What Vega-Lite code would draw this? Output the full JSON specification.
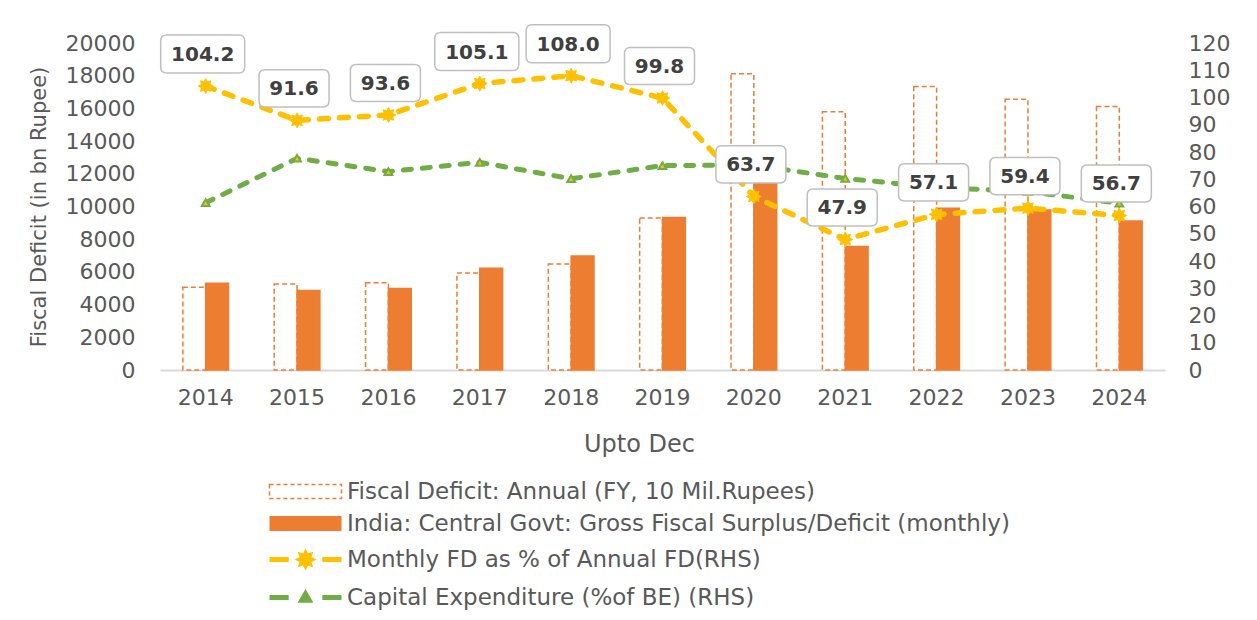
{
  "$schema": "https://vega.github.io/schema/vega-lite/v6.json",
  "width": 1005,
  "height": 327,
  "autosize": {"type": "none"},
  "padding": {"left": 160, "top": 43, "right": 92, "bottom": 250},
  "background": "white",
  "datasets": {
    "bars": [
      {"year": "2014", "series": "Fiscal Deficit: Annual (FY, 10 Mil.Rupees)", "value": 5060},
      {"year": "2014", "series": "India: Central Govt: Gross Fiscal Surplus/Deficit (monthly)", "value": 5306},
      {"year": "2015", "series": "Fiscal Deficit: Annual (FY, 10 Mil.Rupees)", "value": 5263},
      {"year": "2015", "series": "India: Central Govt: Gross Fiscal Surplus/Deficit (monthly)", "value": 4855},
      {"year": "2016", "series": "Fiscal Deficit: Annual (FY, 10 Mil.Rupees)", "value": 5340},
      {"year": "2016", "series": "India: Central Govt: Gross Fiscal Surplus/Deficit (monthly)", "value": 4990},
      {"year": "2017", "series": "Fiscal Deficit: Annual (FY, 10 Mil.Rupees)", "value": 5930},
      {"year": "2017", "series": "India: Central Govt: Gross Fiscal Surplus/Deficit (monthly)", "value": 6220},
      {"year": "2018", "series": "Fiscal Deficit: Annual (FY, 10 Mil.Rupees)", "value": 6487},
      {"year": "2018", "series": "India: Central Govt: Gross Fiscal Surplus/Deficit (monthly)", "value": 6977},
      {"year": "2019", "series": "Fiscal Deficit: Annual (FY, 10 Mil.Rupees)", "value": 9302},
      {"year": "2019", "series": "India: Central Govt: Gross Fiscal Surplus/Deficit (monthly)", "value": 9323},
      {"year": "2020", "series": "Fiscal Deficit: Annual (FY, 10 Mil.Rupees)", "value": 18115},
      {"year": "2020", "series": "India: Central Govt: Gross Fiscal Surplus/Deficit (monthly)", "value": 11500},
      {"year": "2021", "series": "Fiscal Deficit: Annual (FY, 10 Mil.Rupees)", "value": 15790},
      {"year": "2021", "series": "India: Central Govt: Gross Fiscal Surplus/Deficit (monthly)", "value": 7548},
      {"year": "2022", "series": "Fiscal Deficit: Annual (FY, 10 Mil.Rupees)", "value": 17340},
      {"year": "2022", "series": "India: Central Govt: Gross Fiscal Surplus/Deficit (monthly)", "value": 9894},
      {"year": "2023", "series": "Fiscal Deficit: Annual (FY, 10 Mil.Rupees)", "value": 16565},
      {"year": "2023", "series": "India: Central Govt: Gross Fiscal Surplus/Deficit (monthly)", "value": 9792},
      {"year": "2024", "series": "Fiscal Deficit: Annual (FY, 10 Mil.Rupees)", "value": 16116},
      {"year": "2024", "series": "India: Central Govt: Gross Fiscal Surplus/Deficit (monthly)", "value": 9119}
    ],
    "lines": [
      {"year": "2014", "series": "pct", "value": 104.2},
      {"year": "2015", "series": "pct", "value": 91.6},
      {"year": "2016", "series": "pct", "value": 93.6},
      {"year": "2017", "series": "pct", "value": 105.1},
      {"year": "2018", "series": "pct", "value": 108.0},
      {"year": "2019", "series": "pct", "value": 99.8},
      {"year": "2020", "series": "pct", "value": 63.7},
      {"year": "2021", "series": "pct", "value": 47.9},
      {"year": "2022", "series": "pct", "value": 57.1},
      {"year": "2023", "series": "pct", "value": 59.4},
      {"year": "2024", "series": "pct", "value": 56.7},
      {"year": "2014", "series": "capex", "value": 61.4},
      {"year": "2015", "series": "capex", "value": 77.7},
      {"year": "2016", "series": "capex", "value": 72.8},
      {"year": "2017", "series": "capex", "value": 76.2},
      {"year": "2018", "series": "capex", "value": 70.2},
      {"year": "2019", "series": "capex", "value": 75.0},
      {"year": "2020", "series": "capex", "value": 75.2},
      {"year": "2021", "series": "capex", "value": 70.3},
      {"year": "2022", "series": "capex", "value": 67.0},
      {"year": "2023", "series": "capex", "value": 65.5},
      {"year": "2024", "series": "capex", "value": 61.2}
    ]
  },
  "config": {
    "view": {"stroke": null},
    "font": "DejaVu Sans",
    "axis": {
      "labelFont": "DejaVu Sans",
      "labelFontSize": 22,
      "labelColor": "#595959",
      "titleFont": "DejaVu Sans",
      "titleColor": "#595959",
      "titleFontWeight": "normal",
      "grid": false,
      "ticks": false,
      "tickSize": 0
    }
  },
  "encoding": {
    "x": {
      "field": "year",
      "type": "ordinal",
      "scale": {"paddingInner": 0.5, "paddingOuter": 0.25},
      "axis": {
        "title": "Upto Dec",
        "labelAngle": 0,
        "domainColor": "#D9D9D9",
        "domainWidth": 2,
        "labelPadding": 17,
        "titlePadding": 24,
        "titleFontSize": 24,
        "titleX": 479
      }
    }
  },
  "layer": [
    {
      "data": {"name": "bars"},
      "mark": {"type": "bar", "strokeWidth": 1.5},
      "encoding": {
        "xOffset": {
          "field": "series",
          "type": "nominal",
          "scale": {
            "domain": ["Fiscal Deficit: Annual (FY, 10 Mil.Rupees)", "India: Central Govt: Gross Fiscal Surplus/Deficit (monthly)"],
            "paddingInner": 0,
            "paddingOuter": 0
          }
        },
        "y": {
          "field": "value",
          "type": "quantitative",
          "scale": {"domain": [0, 20000]},
          "axis": {
            "title": "Fiscal Deficit  (in bn Rupee)",
            "values": [0, 2000, 4000, 6000, 8000, 10000, 12000, 14000, 16000, 18000, 20000],
            "format": "d",
            "domain": false,
            "labelPadding": 25,
            "titlePadding": 16,
            "titleFontSize": 21
          }
        },
        "fill": {
          "field": "series",
          "type": "nominal",
          "scale": {
            "domain": ["Fiscal Deficit: Annual (FY, 10 Mil.Rupees)", "India: Central Govt: Gross Fiscal Surplus/Deficit (monthly)"],
            "range": ["#FFFFFF", "#ED7D31"]
          },
          "legend": null
        },
        "strokeDash": {
          "field": "series",
          "type": "nominal",
          "scale": {
            "domain": ["Fiscal Deficit: Annual (FY, 10 Mil.Rupees)", "India: Central Govt: Gross Fiscal Surplus/Deficit (monthly)"],
            "range": [[5, 3], [1, 0]]
          },
          "legend": null
        },
        "stroke": {
          "field": "series",
          "type": "nominal",
          "scale": {
            "domain": [
              "Fiscal Deficit: Annual (FY, 10 Mil.Rupees)",
              "India: Central Govt: Gross Fiscal Surplus/Deficit (monthly)",
              "Monthly FD as % of Annual FD(RHS)",
              "Capital Expenditure (%of BE) (RHS)"
            ],
            "range": ["#ED7D31", "#ED7D31", "#FFC000", "#70AD47"]
          },
          "legend": {
            "title": null,
            "orient": "none",
            "legendX": 134,
            "legendY": 437,
            "direction": "vertical",
            "padding": 0,
            "labelFont": "DejaVu Sans",
            "labelFontSize": 23,
            "labelColor": "#595959",
            "labelLimit": 900,
            "symbolSize": 576,
            "labelOffset": 30,
            "rowPadding": 8,
            "symbolOpacity": 1,
            "symbolType": {"expr": "datum.index === 0 ? 'M-3,-0.58H3V0.58H-3Z' : datum.index === 1 ? 'M-3,-0.62H3V0.62H-3Z' : datum.index === 2 ? 'M-3,0H-1.4M1.4,0H3M0.45,0L0.25,0.1L0.32,0.32L0.1,0.25L0,0.45L-0.1,0.25L-0.32,0.32L-0.25,0.1L-0.45,0L-0.25,-0.1L-0.32,-0.32L-0.1,-0.25L0,-0.45L0.1,-0.25L0.32,-0.32L0.25,-0.1Z' : 'M-3,0H-1.4M1.4,0H3M0,-0.3L0.3,0.22H-0.3Z'"},
            "symbolFillColor": {"expr": "datum.index === 0 ? '#FFFFFF' : datum.index === 1 ? '#ED7D31' : datum.index === 2 ? '#FFC000' : '#70AD47'"},
            "symbolStrokeWidth": {"expr": "datum.index === 0 ? 1.5 : datum.index === 1 ? 0 : 5"},
            "symbolDash": {"expr": "datum.index === 0 ? [4, 3] : [1, 0]"}
          }
        }
      }
    },
    {
      "data": {"name": "lines"},
      "encoding": {
        "y": {
          "field": "value",
          "type": "quantitative",
          "scale": {"domain": [0, 120]},
          "axis": {
            "orient": "right",
            "title": null,
            "values": [0, 10, 20, 30, 40, 50, 60, 70, 80, 90, 100, 110, 120],
            "domain": false,
            "labelPadding": 23
          }
        }
      },
      "layer": [
        {
          "transform": [{"filter": "datum.series === 'pct'"}],
          "mark": {"type": "line", "color": "#FFC000", "strokeWidth": 5.5, "strokeDash": [9, 11], "strokeCap": "round"}
        },
        {
          "transform": [{"filter": "datum.series === 'capex'"}],
          "mark": {"type": "line", "color": "#70AD47", "strokeWidth": 5, "strokeDash": [8, 11], "strokeCap": "round"}
        },
        {
          "transform": [{"filter": "datum.series === 'pct'"}],
          "mark": {
            "type": "point",
            "shape": "M1,0L0.55,0.23L0.71,0.71L0.23,0.55L0,1L-0.23,0.55L-0.71,0.71L-0.55,0.23L-1,0L-0.55,-0.23L-0.71,-0.71L-0.23,-0.55L0,-1L0.23,-0.55L0.71,-0.71L0.55,-0.23Z",
            "size": 220,
            "filled": true,
            "fill": "#FFC000",
            "stroke": "#FFC000",
            "strokeWidth": 1,
            "opacity": 1
          }
        },
        {
          "transform": [{"filter": "datum.series === 'capex'"}],
          "mark": {
            "type": "point",
            "shape": "triangle-up",
            "size": 60,
            "filled": true,
            "fill": "#FFC000",
            "stroke": "#70AD47",
            "strokeWidth": 2,
            "opacity": 1
          }
        },
        {
          "transform": [{"filter": "datum.series === 'pct'"}],
          "mark": {
            "type": "point",
            "filled": true,
            "fill": "#FFFFFF",
            "stroke": "#BFBFBF",
            "strokeWidth": 1.5,
            "opacity": 1,
            "xOffset": -3,
            "yOffset": -32
          },
          "encoding": {
            "shape": {
              "condition": {"test": "datum.value >= 100", "value": "M-0.857,-0.452H0.857Q1,-0.452 1,-0.309V0.309Q1,0.452 0.857,0.452H-0.857Q-1,0.452 -1,0.309V-0.309Q-1,-0.452 -0.857,-0.452Z"},
              "value": "M-0.83,-0.53H0.83Q1,-0.53 1,-0.36V0.36Q1,0.53 0.83,0.53H-0.83Q-1,0.53 -1,0.36V-0.36Q-1,-0.53 -0.83,-0.53Z"
            },
            "size": {
              "condition": {"test": "datum.value >= 100", "value": 7056},
              "value": 4900
            }
          }
        },
        {
          "transform": [{"filter": "datum.series === 'pct'"}],
          "mark": {
            "type": "text",
            "font": "DejaVu Sans",
            "fontSize": 20,
            "fontWeight": "bold",
            "color": "#404040",
            "align": "center",
            "baseline": "middle",
            "xOffset": -3,
            "yOffset": -31
          },
          "encoding": {
            "text": {"field": "value", "type": "quantitative", "format": ".1f"}
          }
        }
      ]
    }
  ],
  "resolve": {"scale": {"y": "independent"}}
}
